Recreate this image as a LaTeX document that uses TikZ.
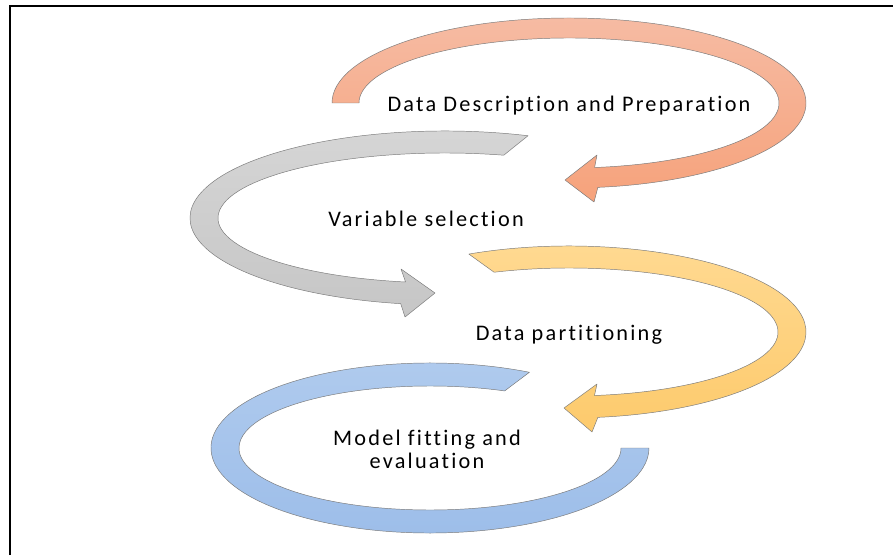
\documentclass[tikz,border=0pt]{standalone}
\usepackage{fontspec}
\setmainfont{Carlito}[LetterSpace=10, Ligatures={NoCommon}]
\usetikzlibrary{calc}
\definecolor{cOrangeT}{HTML}{F6BBA3}
\definecolor{cOrangeB}{HTML}{F6A27B}
\definecolor{cGrayT}{HTML}{D6D6D6}
\definecolor{cGrayB}{HTML}{C6C6C6}
\definecolor{cYellowT}{HTML}{FFDA93}
\definecolor{cYellowB}{HTML}{FDCA6C}
\definecolor{cBlueT}{HTML}{B0CBEE}
\definecolor{cBlueB}{HTML}{9CBDE9}
\definecolor{cEdge}{HTML}{7A7A7A}
\begin{document}
\begin{tikzpicture}[x=0.03cm,y=0.03cm,
  band/.style={draw=cEdge, line width=0.4pt, line join=round},
  lbl/.style={font=\fontsize{19}{19.5}\selectfont, inner sep=0pt, align=center, text=black}]
\useasboundingbox (0,0) rectangle (893,555);
\fill[white] (0,0) rectangle (893,555);
% frame (only top and left edges visible)
\coordinate (fb) at (10,0);
\coordinate (fc) at (10,549);
\coordinate (fr) at (893,549);
\draw[line width=0.06cm] (fb) -- (fc) -- (fr);
% blue ring (no head)
\draw[band, top color=cBlueT, bottom color=cBlueB] (430,107) ++(63:219 and 85)
  arc[start angle=63, end angle=360, x radius=219, y radius=85]
  -- ++(-28,0)
  arc[start angle=360, end angle=67, x radius=191, y radius=62] -- cycle;
% yellow arrow
\draw[band, top color=cYellowT, bottom color=cYellowB] (569,223) ++(115:237 and 86)
  arc[start angle=115, end angle=-83, x radius=237, y radius=86]
  -- (592,123) -- (564,147) -- (597,171)
  -- ($(569,223)+(-83:209 and 64)$)
  arc[start angle=-83, end angle=111, x radius=209, y radius=64] -- cycle;
% gray arrow
\draw[band, top color=cGrayT, bottom color=cGrayB] (445,337) ++(71:255 and 87)
  arc[start angle=71, end angle=260, x radius=255, y radius=87]
  -- (405,238) -- (435,262) -- (401,286)
  -- ($(445,337)+(260:227 and 65)$)
  arc[start angle=260, end angle=75, x radius=227, y radius=65] -- cycle;
% orange arrow
\draw[band, top color=cOrangeT, bottom color=cOrangeB] (569,452) ++(180:237 and 85)
  arc[start angle=180, end angle=-83, x radius=237, y radius=85]
  -- (594,353) -- (565,375) -- (597,400)
  -- ($(569,452)+(-83:210 and 65)$)
  arc[start angle=-83, end angle=180, x radius=210, y radius=65] -- cycle;
% labels
\node[lbl] (t1) at (569,449) {Data Description and Preparation};
\node[lbl] (t2) at (426,336) {Variable selection};
\node[lbl] (t3) at (569,220) {Data partitioning};
\node[lbl] (t4) at (427,106) {Model fitting and\\evaluation};
\end{tikzpicture}
\end{document}
